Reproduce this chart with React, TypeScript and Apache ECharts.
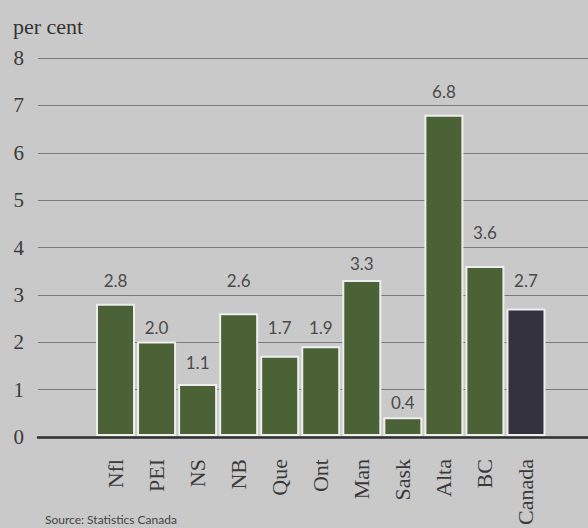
import React, { useEffect, useRef } from "react";
import * as echarts from "echarts";

const categories = ["Nfl", "PEI", "NS", "NB", "Que", "Ont", "Man", "Sask", "Alta", "BC", "Canada"];
const values = [2.8, 2.0, 1.1, 2.6, 1.7, 1.9, 3.3, 0.4, 6.8, 3.6, 2.7];
const yMin = 0;
const yMax = 8;
const yInterval = 1;
const unitLabel = "per cent";
const sourceNote = "Source: Statistics Canada";

const GREEN = "#4a6236";
const CANADA = "#34323e";
const BG = "#c9c9c9";
const SERIF = "'Liberation Serif', 'DejaVu Serif', serif";
const SANS = "Lato, 'Open Sans', sans-serif";

const GRID_TOP = 58;
const GRID_BOTTOM = 91;
const PLOT_H = 528 - GRID_TOP - GRID_BOTTOM;
const PX_PER_UNIT = PLOT_H / (yMax - yMin);
const VALUE_FONT = 17;

function labelDistance(v: number): number {
  const gapUnits = Math.ceil(v - 1e-9) - v;
  const gap = gapUnits * PX_PER_UNIT;
  const centerLift = gap >= 28 ? gap / 2 : gap + 14;
  return Math.max(0, centerLift - VALUE_FONT / 2);
}

export default function App() {
  const ref = useRef<HTMLDivElement>(null);

  useEffect(() => {
    document.body.style.margin = "0";
    document.body.style.background = BG;
    const chart = echarts.init(ref.current!, null, { renderer: "svg" });
    chart.setOption({
      animation: false,
      backgroundColor: BG,
      title: {
        text: unitLabel,
        left: 8,
        top: 10,
        textStyle: { fontFamily: SERIF, fontSize: 22, fontWeight: "normal", color: "#333333" },
      },
      graphic: [
        {
          type: "text",
          left: 45,
          top: 513,
          style: { text: sourceNote, font: `12px ${SANS}`, fill: "#444444" },
        },
      ],
      grid: [
        { left: 38, right: 0, top: GRID_TOP, bottom: GRID_BOTTOM },
        { left: 95, width: 451.5, top: GRID_TOP, bottom: GRID_BOTTOM },
      ],
      xAxis: [
        {
          gridIndex: 0,
          type: "value",
          min: 0,
          max: 1,
          z: 5,
          axisLine: { show: true, lineStyle: { color: "#2e2e2e", width: 2.5 } },
          axisTick: { show: false },
          axisLabel: { show: false },
          splitLine: { show: false },
        },
        {
          gridIndex: 1,
          type: "category",
          data: categories,
          axisLine: { show: false },
          axisTick: { show: false },
          axisLabel: {
            rotate: 90,
            margin: 23,
            interval: 0,
            fontFamily: SERIF,
            fontSize: 22,
            color: "#3a3a3a",
          },
        },
      ],
      yAxis: [
        {
          gridIndex: 0,
          type: "value",
          min: yMin,
          max: yMax,
          interval: yInterval,
          axisLine: { show: false },
          axisTick: { show: false },
          axisLabel: {
            margin: 14,
            fontFamily: SERIF,
            fontSize: 21,
            color: "#3a3a3a",
            padding: [7, 0, 0, 0],
          },
          splitLine: { show: true, lineStyle: { color: "#7a7a7a", width: 1 } },
        },
        {
          gridIndex: 1,
          type: "value",
          min: yMin,
          max: yMax,
          interval: yInterval,
          show: false,
          splitLine: { show: false },
        },
      ],
      series: [
        {
          type: "bar",
          xAxisIndex: 1,
          yAxisIndex: 1,
          barWidth: 39,
          data: values.map((v, i) => ({
            value: v,
            itemStyle: { color: categories[i] === "Canada" ? CANADA : GREEN },
            label: { distance: labelDistance(v) },
          })),
          itemStyle: { borderColor: "#eeeeee", borderWidth: 2 },
          label: {
            show: true,
            position: "top",
            fontFamily: SANS,
            fontSize: VALUE_FONT,
            color: "#4a4a4a",
            formatter: (p: any) => Number(p.value).toFixed(1),
          },
        },
      ],
    });
    return () => chart.dispose();
  }, []);

  return <div ref={ref} style={{ width: 588, height: 528 }} />;
}
